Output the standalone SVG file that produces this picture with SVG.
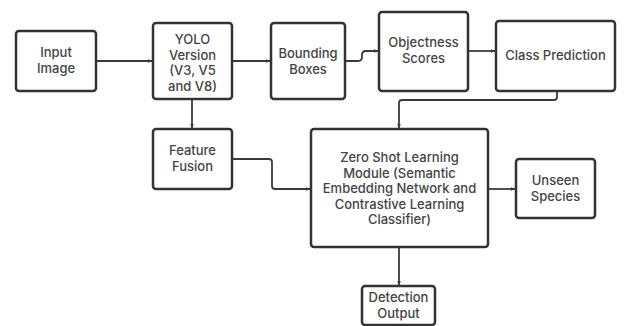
<svg xmlns="http://www.w3.org/2000/svg" width="629" height="326" viewBox="0 0 629 326">
<defs>
<marker id="ah" viewBox="0 0 10 10" refX="9" refY="5" markerWidth="5" markerHeight="5" orient="auto" markerUnits="userSpaceOnUse">
<path d="M0,1 L10,5 L0,9 z" fill="#3a3a3a"/>
</marker>
<style>
.box{fill:#fff;stroke:#333;stroke-width:2.5}
.t{font-family:Inter,"Liberation Sans",sans-serif;font-size:13px;font-weight:500;fill:#444;text-anchor:middle}
.c{fill:none;stroke:#3a3a3a;stroke-width:1.8;marker-end:url(#ah)}
</style>
</defs>
<rect width="629" height="326" fill="#fff"/>
<g id="connectors">
<path class="c" d="M96,61 H152"/>
<path class="c" d="M232,61 H270"/>
<path class="c" d="M345,61 H358 Q362,61 362,57 V55 Q362,51 366,51 H378"/>
<path class="c" d="M468,51 H495"/>
<path class="c" d="M557,91 V97 Q557,100 554,100 H402 Q399,100 399,103 V128"/>
<path class="c" d="M192,99 V128"/>
<path class="c" d="M232,159 H269 Q272,159 272,162 V186 Q272,189 275,189 H310"/>
<path class="c" d="M488,189 H515"/>
<path class="c" d="M399,247 V285"/>
</g>
<g id="input-image"><rect class="box" x="16" y="31" width="80" height="60" rx="3"/><text class="t" x="56" y="57">Input</text><text class="t" x="56" y="73">Image</text></g>
<g id="yolo"><rect class="box" x="153" y="23" width="79" height="76" rx="3"/><text class="t" x="192.5" y="44">YOLO</text><text class="t" x="192.5" y="59.5">Version</text><text class="t" x="192.5" y="75">(V3, V5</text><text class="t" x="192.5" y="90.5">and V8)</text></g>
<g id="bounding-boxes"><rect class="box" x="271" y="23" width="74" height="76" rx="3"/><text class="t" x="308" y="58">Bounding</text><text class="t" x="308" y="74">Boxes</text></g>
<g id="objectness"><rect class="box" x="379" y="12" width="89" height="79" rx="3"/><text class="t" x="423.5" y="47">Objectness</text><text class="t" x="423.5" y="63">Scores</text></g>
<g id="class-prediction"><rect class="box" x="496" y="21" width="119" height="70" rx="3"/><text class="t" x="555.5" y="60">Class Prediction</text></g>
<g id="feature-fusion"><rect class="box" x="153" y="129" width="79" height="60" rx="3"/><text class="t" x="192.5" y="155">Feature</text><text class="t" x="192.5" y="171">Fusion</text></g>
<g id="zero-shot"><rect class="box" x="311" y="129" width="177" height="118" rx="3"/>
<text class="t" x="399.5" y="162">Zero Shot Learning</text>
<text class="t" x="399.5" y="177.5">Module (Semantic</text>
<text class="t" x="399.5" y="193">Embedding Network and</text>
<text class="t" x="399.5" y="208.5">Contrastive Learning</text>
<text class="t" x="399.5" y="224">Classifier)</text></g>
<g id="unseen-species"><rect class="box" x="516" y="159" width="79" height="59" rx="3"/><text class="t" x="555.5" y="185">Unseen</text><text class="t" x="555.5" y="201">Species</text></g>
<g id="detection-output"><rect class="box" x="362" y="286" width="73" height="39" rx="3"/><text class="t" x="398.5" y="302">Detection</text><text class="t" x="398.5" y="318">Output</text></g>
</svg>
